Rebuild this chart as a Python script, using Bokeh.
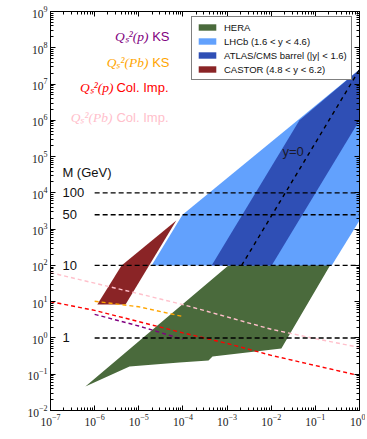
import math
from bokeh.plotting import figure
from bokeh.models import LogAxis, FixedTicker, Legend, LegendItem, Label, CustomJSTickFormatter
from bokeh.embed import file_html
from bokeh.resources import INLINE

# ---------------- data (log10 of x and of Q^2) ----------------
hera_lx = [-6.21, -2.97, -0.16, -1.77, -3.33, -3.42, -4.08, -5.21]
hera_lq = [-1.34, 2.00, 3.05, -0.29, -0.51, -0.62, -0.68, -0.79]

lhcb_lx = [-4.71, -4.01, 0.00, 0.00, -0.63]
lhcb_lq = [2.00, 3.40, 7.40, 3.24, 2.00]

atlas_lx = [-3.35, -1.36, 0.00, 0.00, -1.99]
atlas_lq = [2.00, 6.00, 7.40, 6.00, 2.00]

castor_lx = [-4.15, -5.39, -5.94, -5.30]
castor_lq = [3.24, 2.00, 0.92, 0.92]

ks_p_lx = [-6.0, -5.0, -4.0]
ks_p_lq = [0.65, 0.33, -0.04]

ks_pb_lx = [-6.0, -5.0, -4.0]
ks_pb_lq = [1.01, 0.86, 0.59]

ci_p_lx = [-7.0, -6.0, -5.0, -4.0, -3.0, -2.0, -1.0, 0.0]
ci_p_lq = [1.00, 0.76, 0.45, 0.14, -0.15, -0.48, -0.76, -1.04]

ci_pb_lx = [-7.0, -6.0, -5.0, -4.0, -3.0, -2.0, -1.0, 0.0]
ci_pb_lq = [1.80, 1.51, 1.22, 0.92, 0.58, 0.24, -0.02, -0.26]

y0_lx = [-2.67, 0.0]
y0_lq = [2.0, 7.40]

masses = [1, 10, 50, 100]          # GeV, Q^2 = M^2
mass_labels = ["1", "10", "50", "100"]
mass_x = [1e-6, 1.0]

x_decades = list(range(-7, 1))
y_decades = list(range(-2, 10))


def pw(v):
    return [10.0 ** t for t in v]


p = figure(width=365, height=437, x_axis_type="log", y_axis_type="log",
           x_range=(1e-7, 1.0), y_range=(1e-2, 1e9),
           output_backend="svg", toolbar_location=None,
           min_border_left=50, min_border_right=6, min_border_top=11, min_border_bottom=27)
p.xgrid.visible = False
p.ygrid.visible = False
p.outline_line_color = "black"
p.outline_line_width = 1
p.background_fill_color = "white"
p.border_fill_color = "white"

p.add_layout(LogAxis(), "above")
p.add_layout(LogAxis(), "right")

xmaj = [10.0 ** e for e in x_decades]
xmin = [k * 10.0 ** e for e in x_decades[:-1] for k in range(2, 10)]
ymaj = [10.0 ** e for e in y_decades]
ymin = [k * 10.0 ** e for e in y_decades[:-1] for k in range(2, 10)]

for ax in p.xaxis:
    ax.ticker = FixedTicker(ticks=xmaj, minor_ticks=xmin)
for ax in p.yaxis:
    ax.ticker = FixedTicker(ticks=ymaj, minor_ticks=ymin)

for ax in p.axis:
    ax.major_tick_in = 5
    ax.major_tick_out = 0
    ax.minor_tick_in = 3
    ax.minor_tick_out = 0
    ax.axis_line_color = "black"
    ax.major_tick_line_color = "black"
    ax.minor_tick_line_color = "black"
    ax.major_label_text_font = "Liberation Serif"
    ax.major_label_text_font_size = "11.5px"
    ax.major_label_text_color = "#222222"
    ax.major_label_standoff = 3

for ax in (p.above + p.right):
    if isinstance(ax, LogAxis):
        ax.formatter = CustomJSTickFormatter(code="return ' '")
        ax.major_label_text_font_size = "2px"
        ax.major_label_text_alpha = 0
        ax.major_label_standoff = 0

# ---------------- regions ----------------
r_hera = p.patch(pw(hera_lx), pw(hera_lq), fill_color="#4a6a3c", line_color=None)
r_lhcb = p.patch(pw(lhcb_lx), pw(lhcb_lq), fill_color="#62a1fd", line_color=None)
r_atlas = p.patch(pw(atlas_lx), pw(atlas_lq), fill_color="#2f4fb5", line_color=None)
r_castor = p.patch(pw(castor_lx), pw(castor_lq), fill_color="#8a2426", line_color=None)

# ---------------- saturation scale lines ----------------
p.line(pw(ks_p_lx), pw(ks_p_lq), line_color="purple", line_width=1.4, line_dash="4 3")
p.line(pw(ks_pb_lx), pw(ks_pb_lq), line_color="orange", line_width=1.4, line_dash="4 3")
p.line(pw(ci_p_lx), pw(ci_p_lq), line_color="red", line_width=1.4, line_dash="4 3")
p.line(pw(ci_pb_lx), pw(ci_pb_lq), line_color="pink", line_width=1.4, line_dash="4 3")

# ---------------- mass lines ----------------
for m in masses:
    p.line(mass_x, [m * m, m * m], line_color="black", line_width=1.4, line_dash="5 3")
p.line(pw(y0_lx), pw(y0_lq), line_color="black", line_width=1.4, line_dash="4 4")

for m, t in zip(masses, mass_labels):
    p.add_layout(Label(x=10 ** -6.73, y=m * m, text=t, text_align="left", text_baseline="middle",
                       text_font="Liberation Sans", text_font_size="13px", text_color="#111111"))
p.add_layout(Label(x=10 ** -6.73, y=10 ** 4.56, text="M (GeV)", text_align="left",
                   text_baseline="middle", text_font="Liberation Sans", text_font_size="13px",
                   text_color="#111111"))
p.add_layout(Label(x=10 ** -1.744, y=10 ** 5.14, text="y=0", text_align="left",
                   text_baseline="middle", text_font="Liberation Sans", text_font_size="13px",
                   text_color="#1a1a2a"))

# ---------------- saturation labels ----------------
sat = [("Q\u209b\u00b2(p)", "KS", "purple", 8.31, -4.78, -4.304),
       ("Q\u209b\u00b2(Pb)", "KS", "orange", 7.595, -4.78, -4.304),
       ("Q\u209b\u00b2(p)", "Col. Imp.", "red", 6.905, -5.573, -4.327),
       ("Q\u209b\u00b2(Pb)", "Col. Imp.", "pink", 6.08, -5.595, -4.327)]
for math_t, txt, col, ly, lx_math, lx_txt in sat:
    p.add_layout(Label(x=10 ** lx_math, y=10 ** ly, text=math_t, text_align="right",
                       text_baseline="middle", text_font="Liberation Serif",
                       text_font_style="italic", text_font_size="13.5px", text_color=col))
    p.add_layout(Label(x=10 ** lx_txt, y=10 ** ly, text=txt, text_align="right",
                       text_baseline="middle", text_font="Liberation Sans",
                       text_font_size="13px", text_color=col))

# ---------------- axis titles ----------------
p.add_layout(Label(x=10 ** -7.84, y=10 ** 3.5, text="Q\u00b2 (GeV\u00b2)", angle=math.pi / 2,
                   text_align="center", text_baseline="middle", text_font="Liberation Sans",
                   text_font_size="13px", text_color="#222222"))
p.add_layout(Label(x=10 ** -3.5, y=10 ** -2.47, text="x", text_align="center",
                   text_baseline="middle", text_font="Liberation Serif", text_font_style="italic",
                   text_font_size="16px", text_color="#222222"))

# ---------------- legend ----------------
legend = Legend(items=[LegendItem(label="HERA", renderers=[r_hera]),
                       LegendItem(label="LHCb (1.6 < y < 4.6)", renderers=[r_lhcb]),
                       LegendItem(label="ATLAS/CMS barrel (|y| < 1.6)", renderers=[r_atlas]),
                       LegendItem(label="CASTOR (4.8 < y < 6.2)", renderers=[r_castor])],
                location=(141, 330), orientation="vertical",
                glyph_width=22, glyph_height=8, label_height=12, spacing=2,
                padding=4, margin=0, label_standoff=6,
                label_text_font="Liberation Sans", label_text_font_size="9.5px",
                label_text_color="#111111",
                border_line_color="black", border_line_width=1,
                background_fill_color="white", background_fill_alpha=1.0)
p.add_layout(legend, "center")

open("out.html", "w").write(file_html(p, INLINE))
